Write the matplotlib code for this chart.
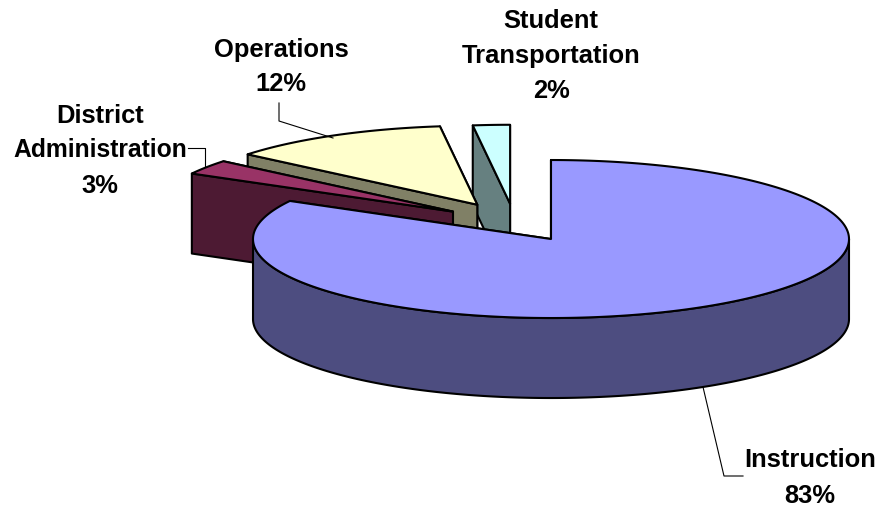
import numpy as np
from matplotlib import pyplot as plt
from matplotlib.patches import Polygon

# slices clockwise from 12 o'clock, percent
names = ['Instruction', 'District\nAdministration', 'Operations', 'Student\nTransportation']
shares = [83, 3, 12, 2]
top_colors = ['#9999FF', '#993366', '#FFFFCC', '#CCFFFF']
side_colors = ['#4D4D80', '#4D1A33', '#808066', '#668080']
explode = [0.24, 0.25, 0.26, 0.24]

# pie geometry in image pixels
cx, cy = 514.6, 223.7
rx, ry = 298, 79
depth = 80

plt.rcParams['font.family'] = ['Liberation Sans', 'DejaVu Sans']
fig = plt.figure(figsize=(8.88, 5.10), dpi=100)
ax = fig.add_axes([0, 0, 1, 1])
ax.set_xlim(0, 888)
ax.set_ylim(510, 0)
ax.axis('off')


def rim(x0, y0, deg):
    a = np.radians(deg)
    return x0 + rx * np.sin(a), y0 - ry * np.cos(a)


def arc(x0, y0, a1, a2):
    t = np.linspace(a1, a2, max(int(abs(a2 - a1) * 2), 2))
    return list(zip(*rim(x0, y0, t)))


def shape(points, color, z):
    ax.add_patch(Polygon(points, closed=True, facecolor=color, edgecolor='black',
                         linewidth=1.5, joinstyle='round', zorder=z))


def wall(x0, y0, deg, color, z):
    x1, y1 = rim(x0, y0, deg)
    shape([(x0, y0), (x1, y1), (x1, y1 + depth), (x0, y0 + depth)], color, z)


def wedge(i, a1, a2, z):
    mid = (a1 + a2) / 2
    x0, y0 = rim(cx, cy, mid)
    x0 = cx + (x0 - cx) * explode[i]
    y0 = cy + (y0 - cy) * explode[i]
    wall(x0, y0, a2, side_colors[i], z)
    wall(x0, y0, a1, side_colors[i], z + 0.1)
    # only the front half of the rim shows its outer wall
    f1, f2 = max(a1, 90), min(a2, 270)
    if f1 < f2:
        lower = [(x, y + depth) for x, y in arc(x0, y0, f1, f2)]
        shape(arc(x0, y0, f1, f2) + lower[::-1], side_colors[i], z + 0.2)
    shape([(x0, y0)] + arc(x0, y0, a1, a2), top_colors[i], z + 0.3)


edges = np.cumsum([0] + shares) * 3.6
# back to front: Student, Operations, District, Instruction
for order, i in enumerate([3, 2, 1, 0]):
    wedge(i, edges[i], edges[i + 1], order + 1)

# leader lines
ax.plot([703, 724, 743], [388, 477, 477], color='black', lw=0.8, zorder=6)
ax.plot([279, 279, 333], [104, 122, 139], color='black', lw=0.8, zorder=6)
ax.plot([188, 205, 205], [149, 149, 168], color='black', lw=0.8, zorder=6)

# labels
label_opts = dict(ha='center', va='center', fontsize=18.4, fontweight='bold', color='black')
ax.text(810, 460, 'Instruction', **label_opts)
ax.text(810, 496, '83%', **label_opts)
ax.text(100, 116, 'District', **label_opts)
ax.text(100, 150, 'Administration', ha='center', va='center', fontsize=17.8,
        fontweight='bold', color='black')
ax.text(100, 186, '3%', **label_opts)
ax.text(281, 50, 'Operations', **label_opts)
ax.text(281, 84, '12%', **label_opts)
ax.text(551, 21, 'Student', **label_opts)
ax.text(551, 56, 'Transportation', **label_opts)
ax.text(551, 91, '2%', **label_opts)

fig.savefig('out.png', dpi=100)
